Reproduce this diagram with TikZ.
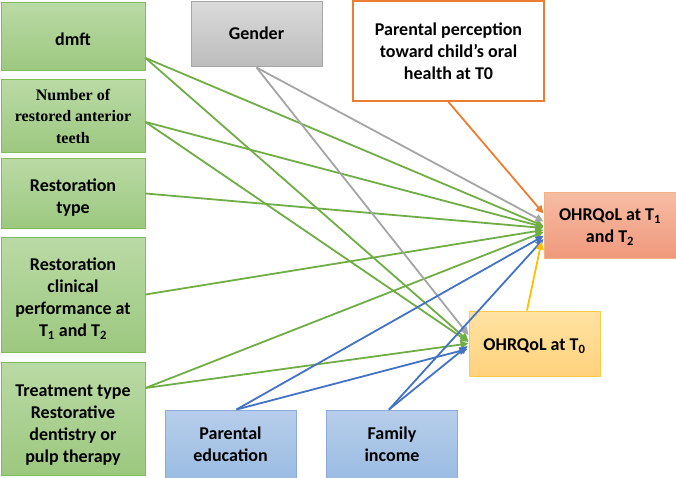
\documentclass[tikz,border=0pt]{standalone}
\usepackage{fontspec}
\setmainfont{Carlito}
\newfontfamily\serifb{Liberation Serif}
\usetikzlibrary{arrows.meta}
\newcommand\mydn[2]{\raisebox{-#1}[\height][\depth]{\begin{tabular}{@{}c@{}}#2\end{tabular}}}
\definecolor{gtop}{HTML}{BADAA5}
\definecolor{gbot}{HTML}{9CC87F}
\definecolor{gbrd}{HTML}{82BD5A}
\definecolor{ytop}{HTML}{DADADA}
\definecolor{ybot}{HTML}{BCBCBC}
\definecolor{ybrd}{HTML}{A6A6A6}
\definecolor{otop}{HTML}{F6BCA4}
\definecolor{obot}{HTML}{F0997C}
\definecolor{obrd}{HTML}{F4B183}
\definecolor{ztop}{HTML}{FFE2A3}
\definecolor{zbot}{HTML}{FFD27C}
\definecolor{zbrd}{HTML}{FFC94A}
\definecolor{btop}{HTML}{B7CEEB}
\definecolor{bbot}{HTML}{9BBCE2}
\definecolor{bbrd}{HTML}{8EAADB}
\definecolor{lgreen}{HTML}{70AD47}
\definecolor{lgray}{HTML}{A5A5A5}
\definecolor{lorange}{HTML}{ED7D31}
\definecolor{lblue}{HTML}{4472C4}
\definecolor{lyellow}{HTML}{FFC000}
\begin{document}
\begin{tikzpicture}[x=1pt,y=-1pt,
 box/.style={line width=1pt, align=center, inner sep=0pt,
   font=\bfseries\fontsize{18}{22}\selectfont},
 gbox/.style={box, top color=gtop, bottom color=gbot, draw=gbrd, minimum width=144pt},
 graybox/.style={box, top color=ytop, bottom color=ybot, draw=ybrd, minimum width=131pt, minimum height=65pt},
 obox/.style={box, fill=white, draw=lorange, line width=2pt, minimum width=191pt, minimum height=100pt},
 tbox/.style={box, top color=otop, bottom color=obot, draw=obrd, minimum width=132pt, minimum height=65pt},
 zbox/.style={box, top color=ztop, bottom color=zbot, draw=zbrd, minimum width=131pt, minimum height=65pt},
 bbox/.style={box, top color=btop, bottom color=bbot, draw=bbrd, minimum width=131pt, minimum height=68pt},
 con/.style={line width=1.8pt, -{Triangle[length=8pt,width=7.5pt]}},
 gcon/.style={con, draw=lgreen, fill=lgreen},
 ycon/.style={con, draw=lgray, fill=lgray},
 ocon/.style={con, draw=lorange, fill=lorange},
 bcon/.style={con, draw=lblue, fill=lblue},
 zcon/.style={con, draw=lyellow, fill=lyellow}
]
\useasboundingbox (0,0) rectangle (676,478);
\node[gbox, minimum height=68pt] (dmft) at (73,37) {\mydn{4pt}{dmft}};
\node[gbox, minimum height=73pt, font=\serifb\bfseries\fontsize{16}{21.5}\selectfont] (num) at (73,116.5) {\mydn{1pt}{Number of\\restored anterior\\teeth}};
\node[gbox, minimum height=69pt] (rtype) at (73,193.5) {\mydn{5pt}{Restoration\\type}};
\node[gbox, minimum height=115pt] (rclin) at (73,294.5) {\mydn{5pt}{Restoration\\clinical\\performance at\\T\textsubscript{1} and T\textsubscript{2}}};
\node[gbox, minimum height=113pt] (ttype) at (73,418.5) {\mydn{7pt}{Treatment type\\Restorative\\dentistry or\\pulp therapy}};
\node[graybox] (gender) at (256.5,34.5) {\mydn{1pt}{Gender}};
\node[obox] (perc) at (448.5,51) {Parental perception\\toward child’s oral\\health at T0};
\node[tbox] (t12) at (610,225.5) {\mydn{2pt}{OHRQoL at T\textsubscript{1}\\and T\textsubscript{2}}};
\node[zbox] (t0) at (534.5,343.5) {\mydn{3pt}{OHRQoL at T\textsubscript{0}}};
\node[bbox] (pedu) at (230.5,444) {Parental\\education};
\node[bbox] (finc) at (392,444) {Family\\income};

% green
\draw[gcon] ([yshift=-21pt]dmft.east) -- ([yshift=-0.5pt]t12.west);
\draw[gcon] ([yshift=-21pt]dmft.east) -- ([yshift=2.5pt]t0.west);
\draw[gcon] ([yshift=-5.5pt]num.east) -- ([yshift=-1.5pt]t12.west);
\draw[gcon] ([yshift=-5.5pt]num.east) -- ([yshift=1.5pt]t0.west);
\draw[gcon] (rtype.east) -- ([yshift=-2.5pt]t12.west);
\draw[gcon] (rclin.east) -- ([yshift=-4.5pt]t12.west);
\draw[gcon] ([yshift=30.5pt]ttype.east) -- ([yshift=-6.5pt]t12.west);
\draw[gcon] ([yshift=30.5pt]ttype.east) -- ([yshift=0pt]t0.west);
% gray
\draw[ycon] (gender.south) -- ([yshift=4pt]t12.west);
\draw[ycon] (gender.south) -- ([yshift=8.5pt]t0.west);
% orange
\draw[ocon] (perc.south) -- ([yshift=12pt]t12.west);
% blue
\draw[bcon] ([xshift=6pt]pedu.north) -- ([yshift=-10.5pt]t12.west);
\draw[bcon] ([xshift=6pt]pedu.north) -- ([xshift=-1pt,yshift=-5.5pt]t0.west);
\draw[bcon] ([xshift=-3pt]finc.north) -- ([yshift=-13.5pt]t12.west);
\draw[bcon] ([xshift=-3pt]finc.north) -- ([xshift=-1pt,yshift=-2.5pt]t0.west);
% yellow
\draw[zcon] ([xshift=-7.5pt]t0.north) -- ([xshift=-2pt,yshift=-16pt]t12.west);
\end{tikzpicture}
\end{document}
